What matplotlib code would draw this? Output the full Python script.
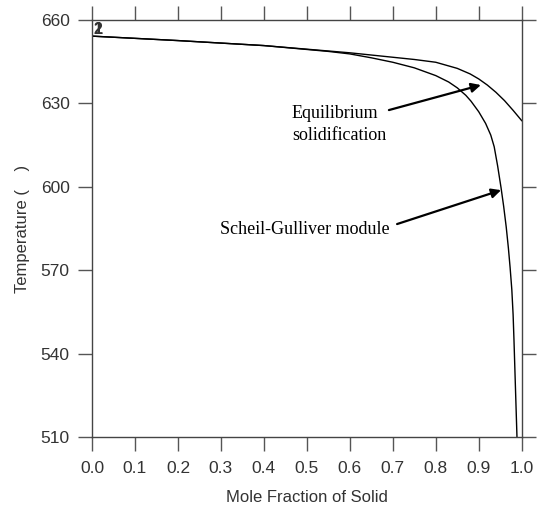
import matplotlib
matplotlib.use("Agg")
import matplotlib.pyplot as plt

# Equilibrium solidification curve
eq_x = [0.0, 0.2, 0.4, 0.5, 0.6, 0.7, 0.75, 0.8, 0.85, 0.88, 0.9, 0.92, 0.94, 0.96, 0.98, 1.0]
eq_T = [654.2, 652.6, 650.8, 649.5, 648.2, 646.6, 645.8, 644.8, 642.6, 640.6, 638.8, 636.6,
        634.0, 631.0, 627.5, 623.8]

# Scheil-Gulliver curve
sg_x = [0.0, 0.2, 0.4, 0.5, 0.55, 0.6, 0.65, 0.7, 0.75, 0.8, 0.83, 0.85, 0.87, 0.882, 0.9,
        0.916, 0.928, 0.936, 0.944, 0.952, 0.958, 0.964, 0.969, 0.973, 0.977, 0.980,
        0.982, 0.984, 0.986, 0.988, 0.989]
sg_T = [654.2, 652.6, 650.8, 649.4, 648.7, 647.8, 646.4, 644.8, 642.8, 640.0, 637.7, 635.6,
        632.9, 630.8, 627.0, 622.8, 618.6, 614.4, 607.5, 599.6, 593.0, 585.5, 578.0, 571.0,
        563.0, 554.0, 545.0, 535.0, 525.0, 515.0, 510.0]

x_ticks = [0.0, 0.1, 0.2, 0.3, 0.4, 0.5, 0.6, 0.7, 0.8, 0.9, 1.0]
y_ticks = [510, 540, 570, 600, 630, 660]

fig = plt.figure(figsize=(5.37, 5.08), dpi=100)
ax = fig.add_axes([92 / 537, 1 - 437 / 508, (521.7 - 92) / 537, (437 - 20) / 508])

ax.plot(eq_x, eq_T, color="black", lw=1.0)
ax.plot(sg_x, sg_T, color="black", lw=1.0)

ax.set_xlim(0, 1.0)
ax.set_ylim(510, 660)
ax.set_xticks(x_ticks)
ax.set_xticklabels([f"{v:.1f}" for v in x_ticks])
ax.set_yticks(y_ticks)

for s in ax.spines.values():
    s.set_color("#444444")
    s.set_linewidth(1.0)

ax.tick_params(axis="both", which="both", direction="out", length=10, width=1.0,
               color="#555555", labelcolor="#333333", labelsize=12.5,
               top=True, right=True, labeltop=False, labelright=False)
ax.tick_params(axis="y", pad=6)
ax.tick_params(axis="x", pad=7)
for lab in ax.get_xticklabels() + ax.get_yticklabels():
    lab.set_family("Liberation Sans")

ax.set_xlabel("Mole Fraction of Solid", family="Liberation Sans", fontsize=12,
              color="#333333", labelpad=10)
ax.set_ylabel("Temperature (    )", family="Liberation Sans", fontsize=12,
              color="#333333", labelpad=8)

# curve labels
ax.text(0.003, 659.3, "2", family="Liberation Sans", fontsize=11.5, fontweight="bold",
        color="#333333", ha="left", va="top")
ax.text(0.005, 659.3, "1", family="Liberation Sans", fontsize=11.5, fontweight="bold",
        color="#333333", ha="left", va="top")

serif = "Liberation Serif"
ax.text(0.465, 624.6, "Equilibrium", family=serif, fontsize=13, ha="left", va="baseline")
ax.text(0.465, 616.8, "solidification", family=serif, fontsize=13, ha="left", va="baseline")
ax.text(0.298, 583.2, "Scheil-Gulliver module", family=serif, fontsize=13, ha="left", va="baseline")

ap = dict(arrowstyle="-|>", color="black", lw=1.6, mutation_scale=14, shrinkA=0, shrinkB=0)
ax.annotate("", xy=(0.905, 636.6), xytext=(0.691, 627.6), arrowprops=ap)
ax.annotate("", xy=(0.952, 598.8), xytext=(0.710, 586.6), arrowprops=ap)

fig.savefig("out.png", dpi=100)
